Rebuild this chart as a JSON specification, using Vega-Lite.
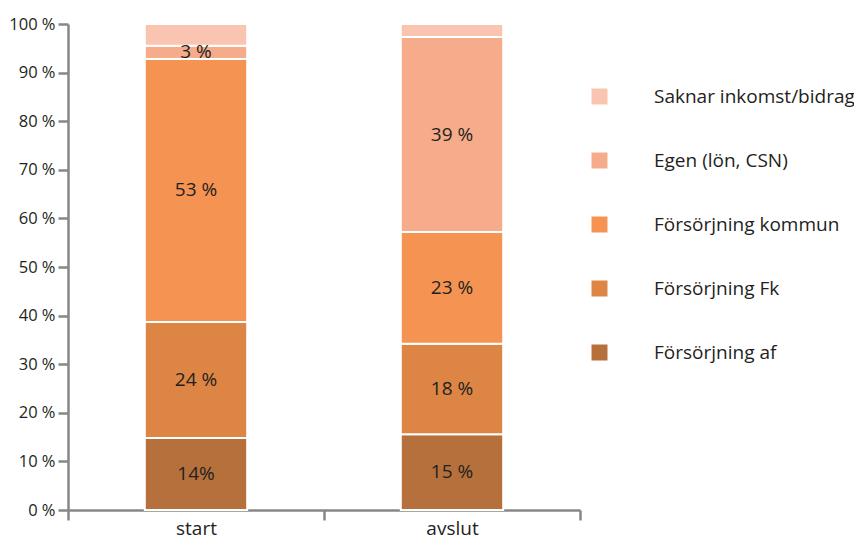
{
  "$schema": "https://vega.github.io/schema/vega-lite/v6.json",
  "width": 512,
  "height": 486,
  "padding": {"left": 68, "top": 24, "right": 274, "bottom": 26},
  "autosize": {"type": "none"},
  "background": "white",
  "config": {"view": {"stroke": null}, "font": "Open Sans"},
  "data": {
    "values": [
      {"fas": "start", "kategori": "Försörjning af", "ordning": 1, "andel": 14.8, "etikett": "14%"},
      {"fas": "start", "kategori": "Försörjning Fk", "ordning": 2, "andel": 23.9, "etikett": "24 %"},
      {"fas": "start", "kategori": "Försörjning kommun", "ordning": 3, "andel": 54.1, "etikett": "53 %"},
      {"fas": "start", "kategori": "Egen (lön, CSN)", "ordning": 4, "andel": 2.7, "etikett": "3 %"},
      {"fas": "start", "kategori": "Saknar inkomst/bidrag", "ordning": 5, "andel": 4.5, "etikett": ""},
      {"fas": "avslut", "kategori": "Försörjning af", "ordning": 1, "andel": 15.6, "etikett": "15 %"},
      {"fas": "avslut", "kategori": "Försörjning Fk", "ordning": 2, "andel": 18.6, "etikett": "18 %"},
      {"fas": "avslut", "kategori": "Försörjning kommun", "ordning": 3, "andel": 23.0, "etikett": "23 %"},
      {"fas": "avslut", "kategori": "Egen (lön, CSN)", "ordning": 4, "andel": 40.1, "etikett": "39 %"},
      {"fas": "avslut", "kategori": "Saknar inkomst/bidrag", "ordning": 5, "andel": 2.7, "etikett": ""}
    ]
  },
  "encoding": {
    "x": {
      "field": "fas", "type": "nominal", "sort": ["start", "avslut"],
      "scale": {"paddingInner": 0, "paddingOuter": 0},
      "axis": {
        "title": null, "labelAngle": 0, "tickBand": "extent", "tickSize": 10,
        "domainColor": "#858789", "tickColor": "#858789", "domainWidth": 2.5, "tickWidth": 2.5,
        "labelFontSize": 19, "labelColor": "#231F20", "labelPadding": -1
      }
    },
    "y": {
      "field": "andel", "type": "quantitative", "stack": "zero",
      "scale": {"domain": [0, 100]},
      "axis": {
        "title": null, "grid": false, "values": [0, 10, 20, 30, 40, 50, 60, 70, 80, 90, 100],
        "labelExpr": "datum.value + ' %'", "tickSize": 10,
        "domainColor": "#858789", "tickColor": "#858789", "domainWidth": 2.5, "tickWidth": 2.5,
        "labelFontSize": 16.5, "labelColor": "#231F20", "labelPadding": 3
      }
    },
    "order": {"field": "ordning", "type": "quantitative"}
  },
  "layer": [
    {
      "mark": {"type": "bar", "stroke": "white", "strokeWidth": 2, "width": {"band": 0.4}},
      "encoding": {
        "color": {
          "field": "kategori", "type": "nominal",
          "scale": {
            "domain": ["Saknar inkomst/bidrag", "Egen (lön, CSN)", "Försörjning kommun", "Försörjning Fk", "Försörjning af"],
            "range": ["#FAC5B0", "#F6AC8A", "#F59452", "#DC8544", "#B6703C"]
          },
          "legend": {
            "orient": "none", "legendX": 522, "legendY": 63, "title": null,
            "symbolType": "square", "symbolSize": 256, "symbolStrokeWidth": 0, "symbolOpacity": 1,
            "labelFontSize": 19, "labelColor": "#231F20", "labelOffset": 45, "rowPadding": 44,
            "labelLimit": 300
          }
        }
      }
    },
    {
      "mark": {"type": "text", "fontSize": 19, "color": "#231F20"},
      "encoding": {
        "y": {"field": "andel", "type": "quantitative", "stack": "zero", "bandPosition": 0.5},
        "detail": {"field": "kategori"},
        "text": {"field": "etikett"}
      }
    }
  ]
}
